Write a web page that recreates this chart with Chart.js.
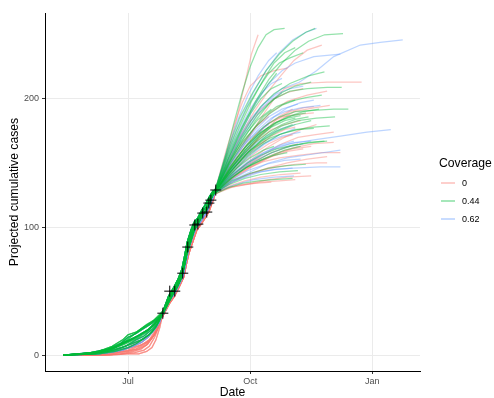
<!DOCTYPE html>
<html>
<head>
<meta charset="utf-8">
<script src="https://cdn.jsdelivr.net/npm/chart.js@4.4.1/dist/chart.umd.min.js"></script>
<style>
  body { margin: 0; background: #fff; }
  #wrap { position: relative; width: 494px; height: 398px; font-family: "Liberation Sans", Arial, sans-serif; }
  #legend { position: absolute; left: 0; top: 0; }
  .leg-title { position: absolute; left: 439px; top: 156px; font-size: 12.2px; line-height: 14px; color: #000; white-space: nowrap; }
  .leg-key { position: absolute; left: 441px; width: 14px; height: 1.5px; }
  .leg-label { position: absolute; left: 462px; font-size: 9px; line-height: 11px; color: #000; }
</style>
</head>
<body>
<div id="wrap">
  <canvas id="chart" width="494" height="398"></canvas>
  <div id="legend"></div>
</div>
<script>
"use strict";

// days counted from 1 July
const xTickDays = [0, 92, 184];
const xTickLabels = ["Jul", "Oct", "Jan"];
const yTicks = [0, 100, 200];

const coverageLevels = ["0", "0.44", "0.62"];
const coverageColors = ["rgba(248,118,109,0.42)", "rgba(0,186,56,0.42)", "rgba(97,156,255,0.42)"];
const keyColors = ["rgba(248,118,109,0.35)", "rgba(0,186,56,0.35)", "rgba(97,156,255,0.35)"];

// observed cumulative cases (the black crosses)
const observedDays = [26.2, 31.4, 35.2, 41.2, 45.0, 50.3, 52.6, 56.3, 59.3, 60.9, 62.4, 66.1];
const observedCases = [32.8, 50, 50, 64, 84.4, 101.6, 102.3, 110.9, 111.7, 118.7, 121, 128.9];

// early part of the trajectories (before they join the observed data)
const earlyPaths = [
  [[-49, 0], [-35, 0], [-20, 1], [-10, 2], [0, 3], [8, 5], [14, 8], [20, 16], [24, 26]],
  [[-49, 0], [-30, 1], [-15, 3], [-5, 6], [3, 9], [10, 12], [16, 16], [21, 22], [24, 28]],
  [[-49, 0], [-25, 2], [-12, 5], [-3, 10], [3, 13], [9, 16], [15, 20], [20, 25], [24, 29]],
  [[-49, 0], [-28, 2], [-15, 5], [-6, 9], [0, 14], [6, 17], [12, 21], [18, 25], [23, 29]],
  [[-49, 0], [-30, 1], [-18, 2], [-8, 4], [2, 6], [10, 8], [16, 12], [21, 20], [24, 27]],
  [[-49, 0], [-20, 0], [-5, 1], [5, 2], [12, 4], [16, 7], [20, 14], [23, 22], [25, 29]],
  [[-49, 0], [-25, 1], [-10, 4], [-2, 7], [6, 12], [12, 15], [18, 20], [22, 25], [25, 30]],
  [[-49, 0], [-35, 1], [-22, 3], [-12, 7], [-4, 12], [0, 16], [6, 18], [12, 22], [18, 26], [23, 30]],
  [[-49, 0], [-30, 0], [-12, 2], [0, 4], [8, 7], [14, 10], [19, 15], [22, 21], [25, 28]],
  [[-49, 0], [-22, 1], [-10, 3], [0, 6], [6, 9], [12, 13], [18, 18], [22, 24], [25, 30]],
  [[-49, 0], [-15, 0], [0, 1], [8, 1], [14, 3], [18, 6], [21, 12], [24, 22], [25, 27]],
  [[-49, 0], [-28, 1], [-14, 4], [-4, 8], [2, 11], [8, 14], [14, 18], [19, 23], [23, 28]],
  [[-49, 0], [-38, 1], [-25, 2], [-14, 5], [-6, 8], [2, 12], [8, 15], [14, 19], [20, 24], [24, 30]],
  [[-49, 0], [-26, 0], [-12, 1], [-2, 3], [6, 5], [12, 8], [17, 12], [21, 18], [24, 25]],
  [[-49, 0], [-32, 1], [-20, 3], [-10, 6], [-2, 10], [4, 13], [10, 17], [16, 20], [21, 26]],
  [[-49, 0], [-18, 0], [-6, 1], [4, 3], [10, 5], [15, 9], [19, 15], [22, 20], [25, 28]],
  [[-49, 0], [-34, 1], [-24, 2], [-16, 4], [-8, 7], [-2, 11], [3, 15], [9, 20], [14, 24], [19, 27], [23, 31]],
  [[-49, 0], [-24, 1], [-14, 2], [-4, 4], [4, 7], [10, 10], [15, 14], [20, 20], [24, 26]],
];

// fitted stretch along the observed data
const corridorPaths = [
  [[26.5, 33], [31, 44], [35, 50], [38, 56], [41, 64], [43, 73], [45, 84], [48, 93], [50.5, 101], [53, 104], [56, 110], [59, 113], [62, 121], [64, 125]],
  [[26.5, 32], [31, 42], [35, 48], [38, 54], [41.5, 62], [43.5, 72], [45.5, 82], [48, 90], [51, 99], [54, 103], [57, 108], [60, 113], [62.5, 119], [64, 123]],
  [[26.5, 34], [31, 46], [35, 52], [38, 58], [41, 66], [43, 76], [45, 86], [48, 96], [50.5, 103], [53, 106], [56, 112], [59, 116], [62, 123], [64, 127]],
  [[26.5, 33], [30, 40], [34, 48], [37, 53], [40.5, 61], [42.5, 70], [44.5, 80], [47, 88], [50, 98], [53, 103], [56, 109], [59, 114], [61.5, 119], [64, 126]],
  [[26.5, 31], [31, 40], [35, 46], [38, 52], [42, 61], [44, 71], [46, 80], [49, 89], [52, 98], [55, 102], [58, 107], [61, 112], [63, 118], [64.5, 122]],
  [[26.5, 35], [30.5, 46], [34.5, 53], [37.5, 59], [40.5, 67], [42.5, 77], [44.5, 88], [47.5, 98], [50, 104], [52.5, 107], [55.5, 113], [58.5, 118], [61.5, 124], [64, 128]],
];

// which early / corridor piece each coverage group uses, cycled
const earlyChoice = [
  [0, 4, 5, 8, 10, 13, 15, 17, 1, 9],
  [2, 3, 7, 11, 12, 14, 16, 6, 1, 9],
  [1, 6, 9, 12, 3, 17, 14, 2],
];
const corridorChoice = [
  [1, 3, 4],
  [0, 2, 5, 3],
  [0, 5, 2, 1],
];

// projections, coverage 0
const fanRed = [
  [[66, 130], [75, 158], [82, 185], [88, 212], [93, 235], [98, 250]],
  [[66, 129], [75, 150], [85, 172], [95, 190], [105, 205], [115, 218], [125, 230], [135, 238], [146, 242]],
  [[66, 128], [78, 150], [90, 168], [100, 185], [110, 200], [118, 208], [130, 212], [150, 213], [176, 213]],
  [[66, 129], [78, 146], [90, 160], [100, 172], [112, 182], [125, 190], [140, 193], [152, 195]],
  [[66, 127], [80, 142], [92, 152], [105, 162], [118, 170], [130, 176], [142, 180]],
  [[66, 128], [80, 140], [95, 150], [110, 157], [125, 162], [140, 165], [155, 166]],
  [[66, 127], [78, 135], [90, 141], [105, 146], [120, 150], [135, 153], [150, 155]],
  [[66, 126], [76, 132], [88, 136], [100, 139], [115, 141], [130, 142]],
  [[66, 128], [75, 143], [85, 158], [95, 170], [105, 180], [115, 187], [124, 192]],
  [[66, 129], [76, 148], [86, 164], [96, 178], [108, 190], [120, 198], [135, 203], [150, 206]],
  [[66, 127], [80, 139], [94, 148], [108, 155], [120, 159], [132, 161]],
  [[66, 128], [78, 140], [92, 150], [104, 158], [116, 165], [128, 170], [140, 172], [155, 174]],
  [[66, 126], [78, 131], [92, 134], [106, 137], [120, 139], [138, 140]],
  [[66, 130], [74, 160], [80, 180], [86, 197], [92, 210], [100, 218], [110, 222], [120, 224]],
  [[66, 128], [80, 146], [92, 161], [102, 174], [112, 184], [122, 190], [132, 193], [140, 194]],
  [[66, 127], [78, 137], [90, 145], [102, 152], [114, 158], [124, 161], [138, 163]],
  [[66, 129], [78, 147], [88, 160], [98, 168], [108, 176], [118, 180], [130, 183]],
  [[66, 127], [77, 134], [88, 140], [100, 144], [112, 147], [126, 149], [142, 150], [150, 150]],
  [[66, 127], [76, 131], [88, 133], [100, 135], [114, 136], [126, 137]],
  [[66, 128], [76, 138], [86, 146], [96, 152], [108, 158], [118, 162], [128, 165]],
  [[66, 129], [76, 146], [86, 160], [96, 172], [106, 181], [116, 186], [128, 188], [140, 189]],
  [[66, 128], [78, 143], [88, 154], [98, 163], [108, 171], [118, 176], [126, 178]],
  [[66, 129], [74, 150], [82, 166], [90, 180], [100, 192], [110, 200], [120, 205], [132, 208]],
  [[66, 127], [78, 138], [90, 146], [102, 151], [114, 154], [128, 156], [146, 158], [160, 158]],
  [[66, 128], [76, 140], [86, 150], [96, 158], [106, 165], [116, 170], [124, 172]],
  [[66, 126], [74, 130], [84, 133], [96, 134], [108, 135]],
  [[66, 128], [74, 140], [82, 150], [90, 158], [98, 164], [104, 168]],
  [[66, 129], [74, 146], [82, 160], [90, 171], [98, 180], [106, 186]],
];

// projections, coverage 0.44
const fanGreen = [
  [[66, 130], [74, 158], [80, 182], [86, 205], [92, 225], [98, 240], [104, 250], [110, 254], [118, 255]],
  [[66, 129], [76, 155], [86, 178], [96, 198], [106, 215], [116, 228], [126, 238], [136, 245], [148, 250], [162, 251]],
  [[66, 130], [75, 160], [84, 185], [94, 205], [104, 222], [114, 235], [124, 245], [134, 252], [141, 255]],
  [[66, 128], [76, 150], [86, 170], [98, 188], [110, 200], [122, 206], [135, 208], [150, 209], [161, 209]],
  [[66, 128], [78, 148], [90, 165], [102, 178], [114, 186], [126, 190], [140, 191], [155, 192], [166, 192]],
  [[66, 128], [76, 146], [88, 162], [100, 174], [112, 182], [124, 187], [134, 189]],
  [[66, 129], [76, 150], [86, 166], [96, 178], [106, 188], [116, 195], [126, 199]],
  [[66, 127], [78, 142], [90, 155], [102, 165], [114, 172], [126, 176], [140, 178], [152, 179]],
  [[66, 128], [78, 144], [90, 158], [102, 168], [114, 175], [126, 180], [138, 183]],
  [[66, 127], [80, 140], [94, 150], [108, 158], [122, 163], [136, 166], [148, 167]],
  [[66, 129], [75, 152], [84, 172], [92, 188], [100, 200], [108, 208], [116, 212]],
  [[66, 128], [78, 146], [88, 160], [98, 170], [110, 180], [120, 186], [132, 190], [144, 192]],
  [[66, 127], [78, 138], [90, 147], [104, 154], [118, 160], [130, 163]],
  [[66, 130], [75, 156], [84, 178], [93, 198], [102, 215], [110, 228], [118, 236], [126, 240]],
  [[66, 128], [77, 143], [88, 156], [100, 167], [112, 175], [124, 180]],
  [[66, 127], [78, 136], [92, 142], [106, 146], [120, 148], [134, 149]],
  [[66, 129], [76, 149], [86, 167], [96, 183], [106, 196], [116, 205], [126, 210], [138, 213]],
  [[66, 128], [79, 145], [92, 160], [104, 171], [116, 179], [128, 183], [142, 185], [156, 186]],
  [[66, 127], [76, 133], [88, 138], [100, 141], [114, 143], [128, 144]],
  [[66, 129], [74, 152], [82, 170], [90, 186], [98, 200], [106, 212], [112, 220]],
  [[66, 128], [76, 144], [86, 156], [96, 166], [106, 174], [116, 180], [126, 184], [136, 186]],
  [[66, 129], [76, 148], [86, 164], [94, 176], [102, 186], [112, 194], [122, 198], [134, 201], [146, 203]],
  [[66, 127], [76, 137], [88, 146], [100, 152], [110, 156], [120, 158]],
  [[66, 128], [78, 147], [90, 162], [100, 173], [110, 181], [120, 185], [130, 187]],
  [[66, 129], [75, 150], [84, 168], [92, 182], [100, 194], [110, 204], [122, 212], [136, 218], [148, 221]],
  [[66, 128], [76, 142], [86, 153], [96, 162], [106, 169], [116, 173], [128, 176], [140, 177]],
  [[66, 126], [76, 131], [86, 134], [98, 136], [110, 137], [124, 138]],
  [[66, 128], [77, 145], [88, 158], [98, 169], [108, 178], [118, 183], [126, 185]],
  [[66, 130], [74, 155], [82, 176], [90, 194], [98, 208], [106, 220], [114, 228], [122, 232], [132, 236]],
  [[66, 127], [78, 140], [90, 150], [100, 156], [112, 161], [124, 164], [140, 166], [150, 167]],
  [[66, 128], [74, 142], [82, 154], [90, 164], [98, 172], [106, 178]],
  [[66, 129], [74, 147], [82, 162], [90, 174], [98, 184], [108, 192]],
  [[66, 127], [74, 137], [82, 146], [92, 154], [102, 160], [110, 163]],
];

// projections, coverage 0.62
const fanBlue = [
  [[66, 129], [76, 152], [86, 172], [96, 188], [106, 200], [116, 208], [129, 213], [142, 222], [155, 233], [175, 242], [190, 244], [207, 246]],
  [[66, 130], [75, 158], [84, 182], [94, 204], [104, 222], [114, 236], [124, 246], [134, 252], [142, 255]],
  [[66, 129], [76, 154], [86, 176], [96, 196], [106, 212], [116, 222], [126, 228], [140, 233], [160, 235]],
  [[66, 128], [80, 142], [94, 152], [108, 160], [122, 165], [140, 168], [160, 171], [180, 174], [198, 176]],
  [[66, 127], [80, 136], [94, 142], [110, 145], [125, 146], [145, 147], [160, 147]],
  [[66, 128], [78, 142], [90, 154], [102, 164], [114, 172], [126, 177]],
  [[66, 129], [76, 150], [86, 170], [96, 186], [106, 198], [116, 205]],
  [[66, 127], [78, 139], [90, 148], [104, 156], [118, 162], [132, 165]],
  [[66, 128], [78, 145], [90, 162], [100, 175], [110, 186], [120, 193], [130, 197], [140, 199]],
  [[66, 129], [75, 155], [84, 176], [92, 192], [100, 204], [108, 212], [116, 216]],
  [[66, 127], [78, 136], [92, 143], [106, 150], [120, 154], [140, 157], [160, 160]],
  [[66, 128], [80, 146], [92, 158], [104, 166], [116, 171], [130, 174]],
  [[66, 130], [74, 158], [82, 182], [90, 202], [98, 218], [106, 230], [112, 236]],
  [[66, 128], [78, 140], [90, 150], [102, 158], [114, 164], [125, 167]],
  [[66, 127], [80, 133], [95, 137], [110, 139], [125, 140]],
  [[66, 129], [78, 150], [88, 165], [98, 176], [108, 185], [118, 190], [130, 193], [145, 195]],
  [[66, 128], [76, 143], [86, 155], [96, 165], [106, 172], [116, 177], [126, 180]],
  [[66, 127], [76, 134], [88, 139], [100, 143], [112, 145], [124, 146]],
  [[66, 129], [76, 148], [86, 164], [96, 176], [106, 186], [116, 192], [128, 196]],
  [[66, 128], [78, 141], [90, 151], [102, 158], [114, 163], [126, 166], [138, 167]],
  [[66, 129], [75, 152], [84, 170], [92, 184], [102, 196], [112, 204], [122, 208], [132, 210]],
  [[66, 127], [78, 137], [90, 144], [104, 149], [118, 152], [130, 153]],
  [[66, 128], [74, 144], [82, 157], [90, 167], [98, 175], [106, 180]],
];

const fontFamily = '"Liberation Sans", Arial, sans-serif';
const fans = [fanRed, fanGreen, fanBlue];
// Chart.js paints the first dataset on top: crosses, then green, blue, red
const drawOrder = [1, 2, 0];

const datasets = [];
datasets.push({
  data: observedDays.map((d, i) => ({ x: d, y: observedCases[i] })),
  pointStyle: "cross",
  pointRadius: 5.5,
  borderColor: "#000",
  borderWidth: 1,
});

drawOrder.forEach((c) => {
  const eIdx = earlyChoice[c];
  const cIdx = corridorChoice[c];
  fans[c].forEach((tail, i) => {
    const early = earlyPaths[eIdx[i % eIdx.length]];
    const mid = corridorPaths[cIdx[i % cIdx.length]];
    datasets.push({
      data: early.concat(mid, tail).map(([x, y]) => ({ x: x, y: y })),
      showLine: true,
      borderColor: coverageColors[c],
      borderWidth: 1.25,
      pointRadius: 0,
      tension: 0,
    });
  });
});

new Chart(document.getElementById("chart"), {
  type: "scatter",
  data: { datasets: datasets },
  options: {
    responsive: false,
    animation: false,
    devicePixelRatio: 1,
    layout: { padding: { top: 13, right: 74, left: 0, bottom: 0 } },
    plugins: { legend: { display: false }, tooltip: { enabled: false } },
    scales: {
      x: {
        type: "linear",
        min: -62.6,
        max: 220,
        afterBuildTicks: (s) => { s.ticks = xTickDays.map((v) => ({ value: v })); },
        afterFit: (s) => { s.height = 27; },
        ticks: {
          callback: (v, i) => xTickLabels[i],
          color: "#4d4d4d",
          font: { size: 9, family: fontFamily },
          padding: 2,
          maxRotation: 0,
          autoSkip: false,
        },
        grid: { color: "#ebebeb", lineWidth: 1, tickLength: 3, tickColor: "#333" },
        border: { display: true, color: "#000", width: 1 },
        title: {
          display: true,
          text: "Date",
          color: "#000",
          font: { size: 12.2, family: fontFamily, lineHeight: 1 },
          padding: { top: 0, bottom: -1 },
        },
      },
      y: {
        type: "linear",
        min: -12.3,
        max: 267,
        afterBuildTicks: (s) => { s.ticks = yTicks.map((v) => ({ value: v })); },
        afterFit: (s) => { s.width = 45; },
        ticks: {
          color: "#4d4d4d",
          font: { size: 9, family: fontFamily },
          padding: 3,
        },
        grid: { color: "#ebebeb", lineWidth: 1, tickLength: 3, tickColor: "#333" },
        border: { display: true, color: "#000", width: 1 },
        title: {
          display: true,
          text: "Projected cumulative cases",
          color: "#000",
          font: { size: 12.2, family: fontFamily, lineHeight: 1 },
          padding: { top: 9, bottom: 0 },
        },
      },
    },
  },
});

// legend (ggplot style, on the right)
const legend = document.getElementById("legend");
const title = document.createElement("div");
title.className = "leg-title";
title.textContent = "Coverage";
legend.appendChild(title);
const keyRows = [183, 201, 219];
coverageLevels.forEach((lvl, i) => {
  const key = document.createElement("div");
  key.className = "leg-key";
  key.style.top = keyRows[i] - 0.75 + "px";
  key.style.background = keyColors[i];
  legend.appendChild(key);
  const lab = document.createElement("div");
  lab.className = "leg-label";
  lab.style.top = keyRows[i] - 5.5 + "px";
  lab.textContent = lvl;
  legend.appendChild(lab);
});
</script>
</body>
</html>
